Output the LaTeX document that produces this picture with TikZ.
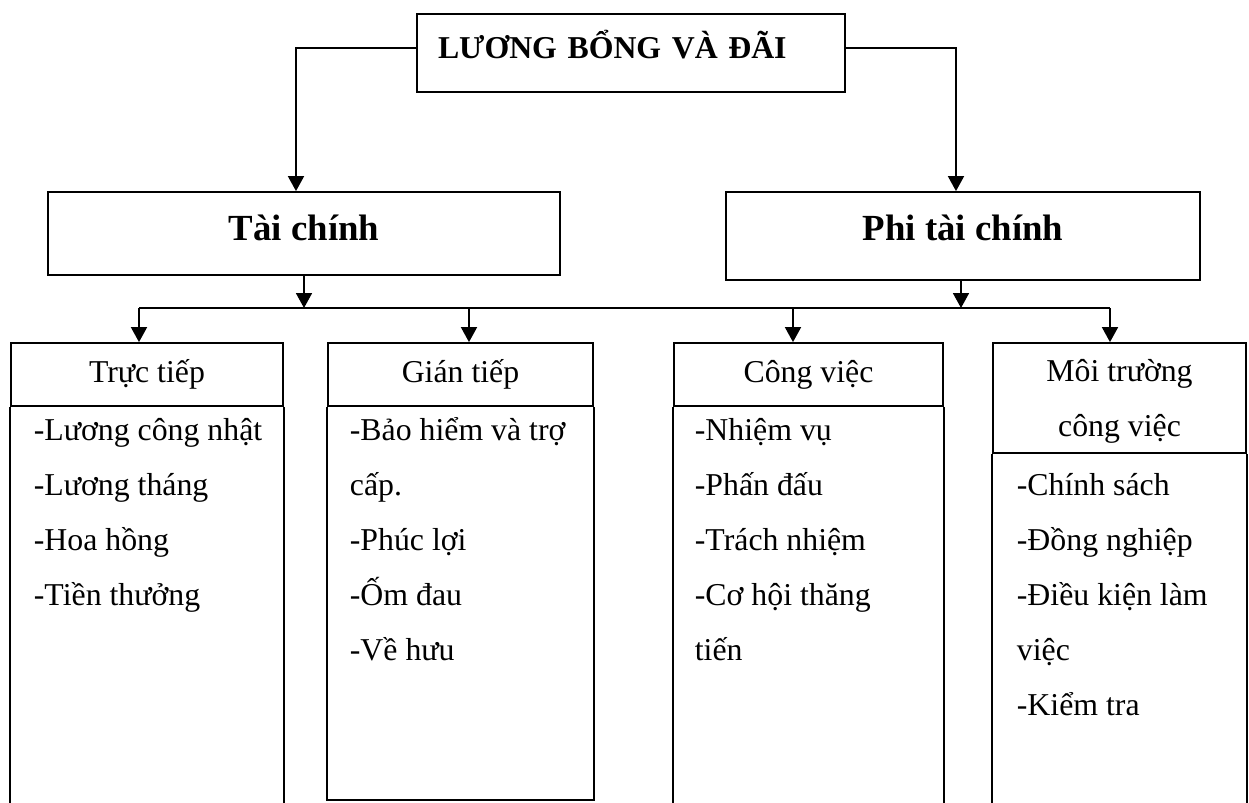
\documentclass[tikz,border=0pt]{standalone}
\usepackage{fontspec}
\setmainfont{Liberation Serif}
\usetikzlibrary{arrows.meta}
\begin{document}
\begin{tikzpicture}[x=0.5pt,y=-0.5pt,line width=0.9pt,
  box/.style={draw,rectangle,inner sep=0pt},
  arr/.style={-{Triangle[length=7.5pt,width=8pt]}},
  txt/.style={font=\fontsize{15.9}{27.5}\selectfont},
  big/.style={font=\fontsize{18.4}{22}\selectfont\bfseries},
  listtext/.style={txt,align=left,inner sep=0pt,anchor=base west},
]
\useasboundingbox (0,0) rectangle (1249,803);
% top
\node[box,txt,font=\fontsize{15.9}{19}\selectfont\bfseries,minimum width=214pt,minimum height=39pt,
      text width=193pt,inner xsep=10.5pt,align=left,text height=10pt,text depth=5pt] (top) at (631,53) {LƯƠNG BỔNG VÀ ĐÃI};
\node[box,big,minimum width=256pt,minimum height=41.5pt,text depth=6pt] (tai) at (304,233.5) {Tài chính};
\node[box,big,minimum width=237pt,minimum height=44pt,text depth=8pt] (phi) at (963,236) {Phi tài chính};
\draw[arr] ([yshift=2.5pt]top.west) -| ([xshift=-4pt]tai.north);
\draw[arr] ([yshift=2.5pt]top.east) -| ([xshift=-3.5pt]phi.north);
% junction bar
\coordinate (jL) at (139,308);
\coordinate (j2) at (469,308);
\coordinate (j3) at (793,308);
\coordinate (jR) at (1110,308);
\coordinate (bottom) at (0,803);
\coordinate (gb) at (0,800);
\draw (jL) -- (jR);
\draw[arr] (tai.south) -- (tai.south |- jL);
\draw[arr] ([xshift=-1pt]phi.south) -- ([xshift=-1pt]phi.south |- jL);
% headers
\node[box,txt,minimum width=136pt,minimum height=31.5pt] (h1) at (147,374.5) {Trực tiếp};
\node[box,txt,minimum width=132.5pt,minimum height=31.5pt] (h2) at (460.5,374.5) {Gián tiếp};
\node[box,txt,minimum width=134.5pt,minimum height=31.5pt] (h3) at (808.5,374.5) {Công việc};
\node[box,txt,align=center,minimum width=126.5pt,minimum height=55pt,text depth=0pt] (h4) at (1119.5,398) {Môi trường\\công việc};
\draw[arr] (jL) -- (jL |- h1.north);
\draw[arr] (j2) -- (j2 |- h2.north);
\draw[arr] (j3) -- (j3 |- h3.north);
\draw[arr] (jR) -- (jR |- h4.north);
% bodies
\draw (h1.south west) -- (h1.south west |- bottom);
\draw (h1.south east) -- (h1.south east |- bottom);
\draw (h2.south west) -- (h2.south west |- gb) -- (h2.south east |- gb) -- (h2.south east);
\draw (h3.south west) -- (h3.south west |- bottom);
\draw (h3.south east) -- (h3.south east |- bottom);
\draw (h4.south west) -- (h4.south west |- bottom);
\draw (h4.south east) -- (h4.south east |- bottom);
\node[listtext] (b1) at (33,605) {-Lương công nhật\\-Lương tháng\\-Hoa hồng\\-Tiền thưởng};
\node[listtext] (b2) at (349,660) {-Bảo hiểm và trợ\\cấp.\\-Phúc lợi\\-Ốm đau\\-Về hưu};
\node[listtext] (b3) at (694,660) {-Nhiệm vụ\\-Phấn đấu\\-Trách nhiệm\\-Cơ hội thăng\\tiến};
\node[listtext] (b4) at (1016,715) {-Chính sách\\-Đồng nghiệp\\-Điều kiện làm\\việc\\-Kiểm tra};
\end{tikzpicture}
\end{document}
